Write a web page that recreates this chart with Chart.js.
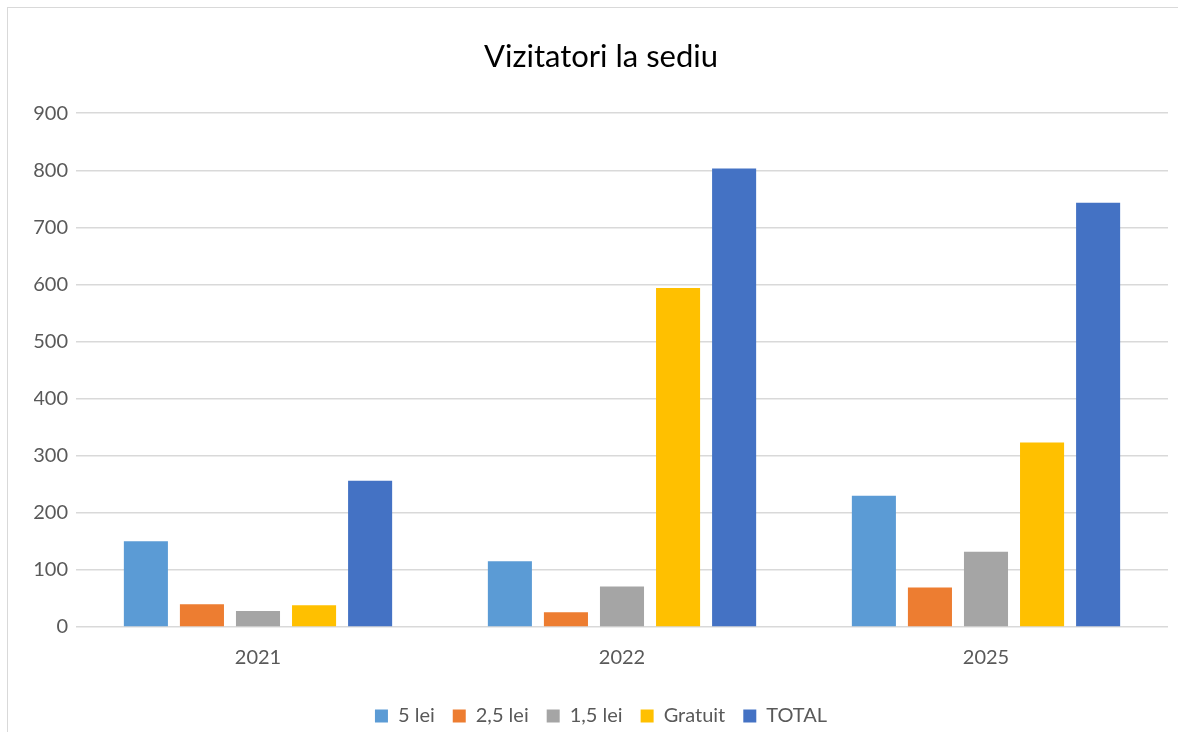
<!DOCTYPE html>
<html>
<head>
<meta charset="utf-8">
<script src="https://cdn.jsdelivr.net/npm/chart.js@4/dist/chart.umd.min.js"></script>
<style>
  html, body { margin: 0; padding: 0; background: #ffffff; }
  #wrap { position: absolute; left: 0; top: 0; width: 1178px; height: 732px; }
  #frame { position: absolute; left: 7px; top: 7px; width: 1180px; height: 740px; border: 1px solid #d9d9d9; box-sizing: border-box; pointer-events: none; }
</style>
</head>
<body>
<div id="wrap"><canvas id="c" width="1178" height="732"></canvas></div>
<div id="frame"></div>
<script>
const categories = ['2021', '2022', '2025'];
const seriesNames = ['5 lei', '2,5 lei', '1,5 lei', 'Gratuit', 'TOTAL'];
const lei5    = [150, 115, 230];
const lei25   = [40, 26, 69];
const lei15   = [28, 71, 132];
const gratuit = [38, 594, 323];
const total   = [256, 803, 743];
const yTicks  = [0, 100, 200, 300, 400, 500, 600, 700, 800, 900];
const colors  = ['#5B9BD5', '#ED7D31', '#A5A5A5', '#FFC000', '#4472C4'];

const values = [lei5, lei25, lei15, gratuit, total];
const FONT = 'Lato, "Open Sans", sans-serif';

new Chart(document.getElementById('c'), {
  type: 'bar',
  data: {
    labels: categories,
    datasets: seriesNames.map((n, i) => ({
      label: n,
      data: values[i],
      backgroundColor: colors[i],
      borderWidth: 0,
      categoryPercentage: 0.77,
      barPercentage: 0.786
    }))
  },
  options: {
    responsive: false,
    animation: false,
    layout: { padding: { left: 34, right: 10, top: 0, bottom: 0 } },
    plugins: {
      title: {
        display: true,
        text: 'Vizitatori la sediu',
        color: '#000000',
        font: { family: FONT, size: 31, weight: 'normal' },
        padding: { top: 38, bottom: 38 }
      },
      legend: {
        position: 'bottom',
        maxHeight: 44,
        labels: {
          color: '#595959',
          font: { family: FONT, size: 20, lineHeight: 0.6 },
          boxWidth: 13, boxHeight: 13,
          padding: 18
        }
      },
      tooltip: { enabled: false }
    },
    scales: {
      x: {
        grid: { display: false, drawTicks: false },
        border: { display: false },
        ticks: { color: '#595959', font: { family: FONT, size: 20 }, padding: 19 },
        afterFit: (ax) => { ax.height = 61; }
      },
      y: {
        min: 0, max: 900,
        afterBuildTicks: (ax) => { ax.ticks = yTicks.map(v => ({ value: v })); },
        grid: { color: '#d9d9d9', lineWidth: 1.4, drawTicks: false },
        border: { display: false },
        ticks: { color: '#595959', font: { family: FONT, size: 20 }, padding: 8 },
        afterFit: (ax) => { ax.width = 42; }
      }
    }
  }
});
</script>
</body>
</html>
